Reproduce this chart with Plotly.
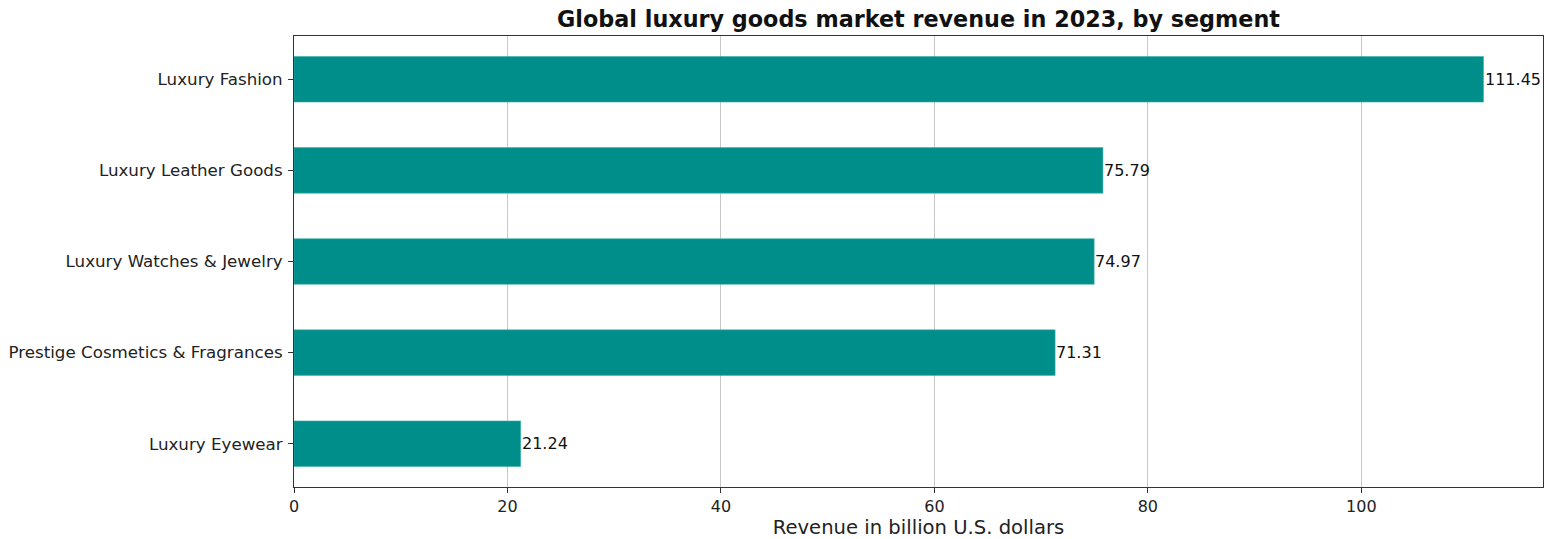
import plotly.graph_objects as go

# Revenue by segment, 2023 (billion U.S. dollars)
segments = [
    "Luxury Eyewear",
    "Prestige Cosmetics & Fragrances",
    "Luxury Watches & Jewelry",
    "Luxury Leather Goods",
    "Luxury Fashion",
]
revenue = [21.24, 71.31, 74.97, 75.79, 111.45]
x_ticks = [0, 20, 40, 60, 80, 100]

BAR_COLOR = "#008E8A"
FONT = "DejaVu Sans"

fig = go.Figure(
    go.Bar(
        x=revenue,
        y=list(range(len(segments))),
        orientation="h",
        width=0.5,
        marker=dict(color=BAR_COLOR, line=dict(color="#3fb0aa", width=0.6)),
        hoverinfo="x+y",
    )
)

# value labels at the end of each bar
for i, v in enumerate(revenue):
    fig.add_annotation(
        x=v, y=i, text=f"{v:.2f}", showarrow=False,
        xanchor="left", yanchor="middle", xshift=-1,
        font=dict(family=FONT, size=16, color="#111111"),
    )

x_max = max(revenue) * 1.05

fig.update_layout(
    width=1544, height=539,
    margin=dict(l=294, r=1, t=36, b=52),
    paper_bgcolor="white", plot_bgcolor="white",
    showlegend=False,
    title=dict(
        text="<b>Global luxury goods market revenue in 2023, by segment</b>",
        x=0.5, xref="paper", xanchor="center",
        y=1 - 19 / 539, yref="container", yanchor="middle",
        font=dict(family=FONT, size=22.3, color="#111111"),
    ),
    xaxis=dict(
        range=[0, x_max],
        tickvals=x_ticks,
        ticks="outside", ticklen=5, tickcolor="#333333", tickwidth=1,
        showgrid=True, gridcolor="#c8c8c8", gridwidth=1,
        showline=True, linecolor="#333333", linewidth=1, mirror=True,
        zeroline=False,
        tickfont=dict(family=FONT, size=16, color="#222222"),
        title=dict(text="Revenue in billion U.S. dollars", standoff=2,
                   font=dict(family=FONT, size=19.6, color="#222222")),
    ),
    yaxis=dict(
        range=[-0.475, len(segments) - 1 + 0.475],
        tickvals=list(range(len(segments))),
        ticktext=segments,
        ticks="outside", ticklen=5, tickcolor="#333333", tickwidth=1,
        ticklabelstandoff=2,
        showgrid=False,
        showline=True, linecolor="#333333", linewidth=1, mirror=True,
        zeroline=False,
        tickfont=dict(family=FONT, size=16.7, color="#222222"),
    ),
)

fig.write_html("out.html")
